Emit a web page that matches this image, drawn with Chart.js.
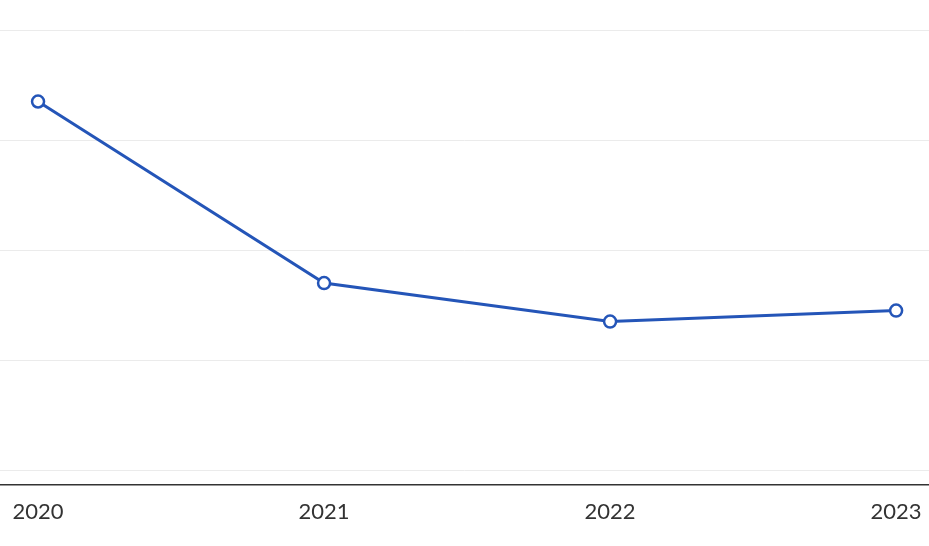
<!DOCTYPE html>
<html>
<head>
<meta charset="utf-8">
<script src="https://cdn.jsdelivr.net/npm/chart.js@4"></script>
<style>
  html, body { margin: 0; padding: 0; background: #fff; }
  canvas { display: block; }
</style>
</head>
<body>
<canvas id="myCanvas" width="929" height="546"></canvas>
<script>
// values (y axis labels are cropped away, units are relative)
var years = ['2020', '2021', '2022', '2023'];
var values = [33.5, 17.0, 13.5, 14.5];
var gridTicks = [0, 10, 20, 30, 40];

var lineColor = '#2455b8';

var points = years.map(function (y, i) {
    return { x: Number(y), y: values[i] };
});

var ctx = document.getElementById('myCanvas');
var myChart = new Chart(ctx, {
    type: 'line',
    data: {
        datasets: [{
            data: points,
            borderColor: lineColor,
            borderWidth: 3,
            backgroundColor: '#fff',
            pointBackgroundColor: '#fff',
            pointBorderColor: lineColor,
            pointBorderWidth: 2.5,
            pointRadius: 6,
            tension: 0
        }]
    },
    options: {
        responsive: false,
        animation: false,
        layout: { autoPadding: false, padding: { top: 30, left: 0, right: 0, bottom: 0 } },
        plugins: {
            legend: { display: false },
            tooltip: { enabled: false }
        },
        scales: {
            x: {
                type: 'linear',
                min: 2019.867,
                max: 2023.115,
                afterBuildTicks: function (scale) {
                    scale.ticks = years.map(function (y) { return { value: Number(y) }; });
                },
                afterFit: function (scale) {
                    scale.height = 61;
                    scale.paddingLeft = 0;
                    scale.paddingRight = 0;
                },
                grid: { display: false, drawTicks: false },
                border: { display: true, color: '#333', width: 1.5 },
                ticks: {
                    padding: 14,
                    maxRotation: 0,
                    autoSkip: false,
                    color: '#333',
                    font: { family: 'Lato', size: 22 },
                    callback: function (v) { return String(v); }
                }
            },
            y: {
                min: -1.36,
                max: 40,
                afterBuildTicks: function (scale) {
                    scale.ticks = gridTicks.map(function (v) { return { value: v }; });
                },
                afterFit: function (scale) {
                    scale.width = 0;
                    scale.paddingTop = 0;
                    scale.paddingBottom = 0;
                },
                grid: { color: '#ebebeb', lineWidth: 1, drawTicks: false },
                border: { display: false },
                ticks: { display: false }
            }
        }
    }
});
</script>
</body>
</html>
